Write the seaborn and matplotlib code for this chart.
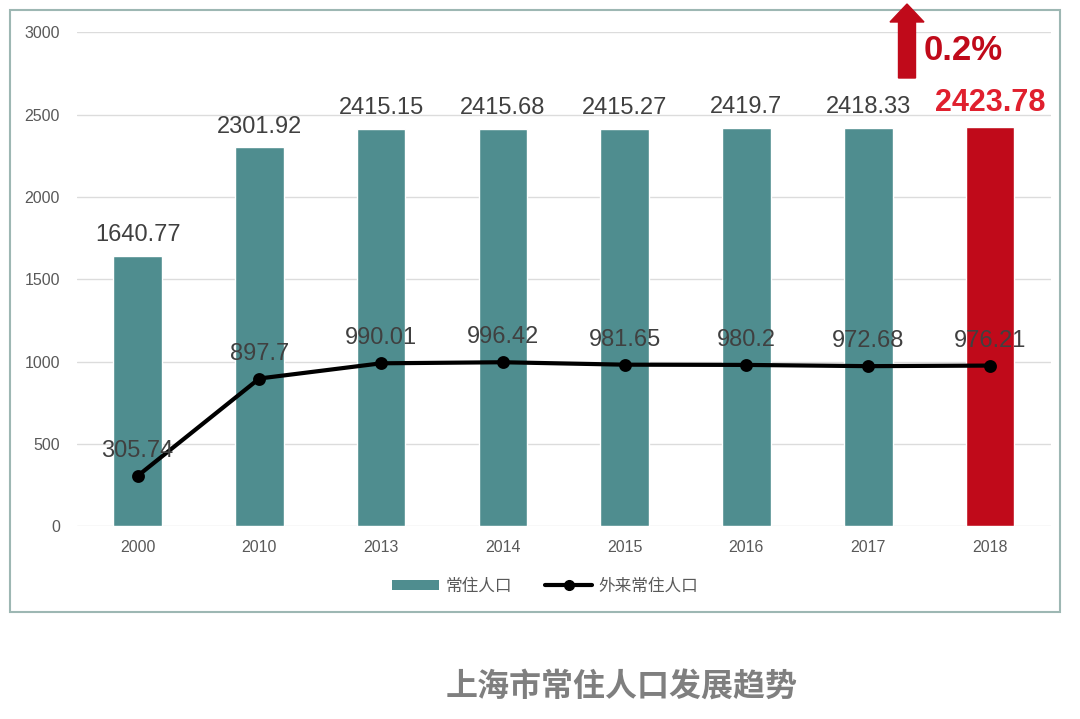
import numpy as np
import pandas as pd
import matplotlib
matplotlib.use("Agg")
import matplotlib.pyplot as plt
import seaborn as sns
from matplotlib.patches import FancyArrow, Rectangle
from matplotlib.lines import Line2D
from matplotlib.patches import Patch

# data
years = ["2000", "2010", "2013", "2014", "2015", "2016", "2017", "2018"]
resident = [1640.77, 2301.92, 2415.15, 2415.68, 2415.27, 2419.7, 2418.33, 2423.78]
migrant = [305.74, 897.7, 990.01, 996.42, 981.65, 980.2, 972.68, 976.21]
resident_label = "常住人口"
migrant_label = "外来常住人口"
title = "上海市常住人口发展趋势"
growth = "0.2%"

teal = "#4f8d8f"
red_bar = "#c00a1a"
red_text = "#e0202e"

sns.set_theme(style="white")
plt.rcParams["font.family"] = ["Liberation Sans", "Noto Sans CJK SC", "DejaVu Sans"]

df = pd.DataFrame({"year": years, "resident": resident, "migrant": migrant})

fig = plt.figure(figsize=(10.8, 7.19), dpi=100)
ax = fig.add_axes([0.071, 0.268, 0.902, 0.687])

bar_colors = [teal] * (len(years) - 1) + [red_bar]
sns.barplot(data=df, x="year", y="resident", hue="year", palette=bar_colors,
            legend=False, width=0.4, saturation=1, ax=ax)
sns.pointplot(data=df, x="year", y="migrant", color="black", markers="o",
              markersize=7, linewidth=3, ax=ax)

ax.set_ylim(0, 3000)
ax.set_yticks(np.arange(0, 3001, 500))
ax.set_xlim(-0.5, len(years) - 0.5)
ax.set_xlabel("")
ax.set_ylabel("")
ax.grid(axis="y", color="#dcdcdc", linewidth=1)
ax.set_axisbelow(True)
for s in ax.spines.values():
    s.set_visible(False)
ax.tick_params(axis="both", length=0, labelsize=11.5, labelcolor="#595959")
ax.tick_params(axis="y", pad=12)
ax.tick_params(axis="x", pad=10)

# value labels
for i, v in enumerate(resident):
    if i == len(resident) - 1:
        ax.annotate(f"{v:g}", (i, v), xytext=(0, 7), textcoords="offset points",
                    ha="center", va="bottom", fontsize=22, fontweight="bold",
                    color=red_text)
    else:
        ax.annotate(f"{v:g}", (i, v), xytext=(0, 7), textcoords="offset points",
                    ha="center", va="bottom", fontsize=17, color="#404040")
for i, v in enumerate(migrant):
    ax.annotate(f"{v:g}", (i, v), xytext=(0, 10), textcoords="offset points",
                ha="center", va="bottom", fontsize=17, color="#404040")

# legend
handles = [Patch(facecolor=teal, edgecolor="none"),
           Line2D([0], [0], color="black", linewidth=3, marker="o", markersize=7)]
fig.legend(handles, [resident_label, migrant_label], loc="center",
           bbox_to_anchor=(0.505, 0.185), ncol=2, frameon=False, fontsize=12,
           handlelength=2.8, handleheight=0.5, handletextpad=0.4,
           columnspacing=2.0, labelcolor="#595959")

# frame around the chart
fig.patches.append(Rectangle((10 / 1080, 1 - 612 / 719), 1050 / 1080, 602 / 719,
                             transform=fig.transFigure, fill=False,
                             edgecolor="#9db7b3", linewidth=1.5))

# growth arrow and text
arrow = FancyArrow(9.07, 6.41, 0, 0.56, width=0.17, head_width=0.34,
                   head_length=0.18, length_includes_head=False,
                   color=red_bar, transform=fig.dpi_scale_trans)
fig.patches.append(arrow)
fig.text(924 / 1080, 1 - 50 / 719, growth, fontsize=25, fontweight="bold",
         color=red_bar, ha="left", va="center")

fig.text(622 / 1080, 1 - 688 / 719, title, fontsize=23, fontweight="bold",
         color="#7f7f7f", ha="center", va="center")

fig.savefig("out.png", dpi=100)
